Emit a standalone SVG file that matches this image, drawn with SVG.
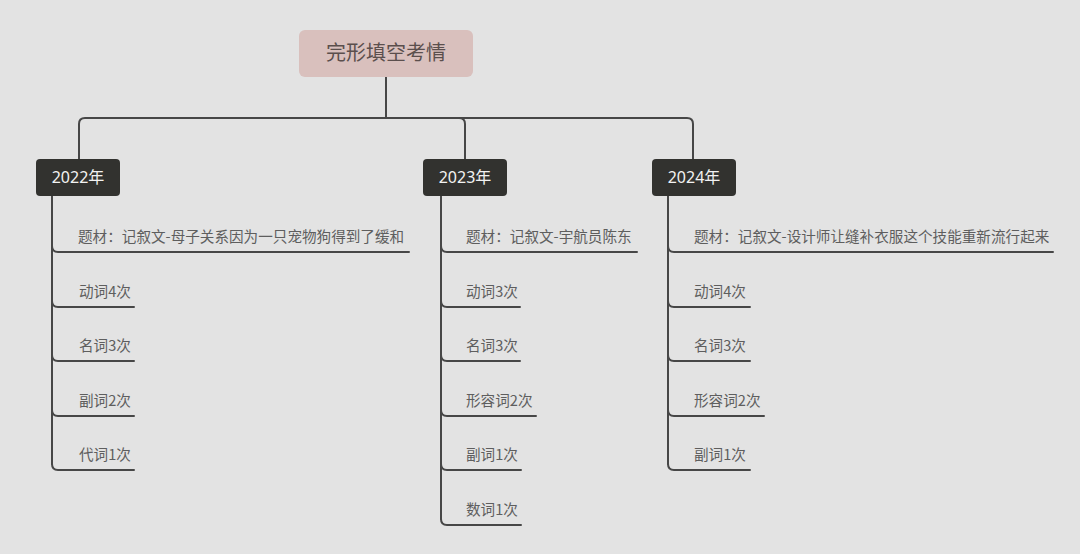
<svg xmlns="http://www.w3.org/2000/svg" width="1080" height="554" viewBox="0 0 1080 554">
<style>
.ln{fill:none;stroke:#474747;stroke-width:2;stroke-linecap:round}
.yr{fill:#32322f}
.yt{fill:#f2f2f2;font-family:"Noto Sans","Noto Sans CJK SC",sans-serif;font-size:16px;text-anchor:middle}
.ct{fill:#5e5e5e;font-family:"Noto Sans CJK SC",sans-serif;font-size:14.6px}
</style>
<rect width="1080" height="554" fill="#e3e3e3"/>
<g id="connectors">
<path class="ln" d="M386 77V118"/>
<path class="ln" d="M79 160V124Q79 118 85 118H687Q693 118 693 124V160"/>
<path class="ln" d="M459 118Q465 118 465 124V160"/>
<path class="ln" d="M52 196V464"/>
<path class="ln" d="M52 246Q52 252 58 252H409"/>
<path class="ln" d="M52 301Q52 307 58 307H134"/>
<path class="ln" d="M52 355Q52 361 58 361H134"/>
<path class="ln" d="M52 410Q52 416 58 416H134"/>
<path class="ln" d="M52 464Q52 470 58 470H134"/>
<path class="ln" d="M441 196V519"/>
<path class="ln" d="M441 246Q441 252 447 252H637"/>
<path class="ln" d="M441 301Q441 307 447 307H520"/>
<path class="ln" d="M441 355Q441 361 447 361H520"/>
<path class="ln" d="M441 410Q441 416 447 416H536"/>
<path class="ln" d="M441 464Q441 470 447 470H521"/>
<path class="ln" d="M441 519Q441 525 447 525H521"/>
<path class="ln" d="M668 196V464"/>
<path class="ln" d="M668 246Q668 252 674 252H1053"/>
<path class="ln" d="M668 301Q668 307 674 307H750"/>
<path class="ln" d="M668 355Q668 361 674 361H750"/>
<path class="ln" d="M668 410Q668 416 674 416H764"/>
<path class="ln" d="M668 464Q668 470 674 470H750"/>
</g>
<g id="root">
<rect x="299" y="30" width="174" height="47" rx="6" fill="#d9c0bd"/>
<text x="386" y="59.5" fill="#5b4f4d" font-family="Noto Sans CJK SC, sans-serif" font-size="20" text-anchor="middle">完形填空考情</text>
</g>
<g id="y2022">
<rect class="yr" x="36" y="159" width="84" height="37" rx="4"/>
<text class="yt" x="78" y="183">2022年</text>
</g>
<g id="y2023">
<rect class="yr" x="423" y="159" width="84" height="37" rx="4"/>
<text class="yt" x="465" y="183">2023年</text>
</g>
<g id="y2024">
<rect class="yr" x="652" y="159" width="84" height="37" rx="4"/>
<text class="yt" x="694" y="183">2024年</text>
</g>
<g id="n2022">
<text class="ct" x="78" y="242">题材：记叙文-母子关系因为一只宠物狗得到了缓和</text>
<text class="ct" x="79" y="296.5">动词4次</text>
<text class="ct" x="79" y="350.5">名词3次</text>
<text class="ct" x="79" y="405.5">副词2次</text>
<text class="ct" x="79" y="459.5">代词1次</text>
</g>
<g id="n2023">
<text class="ct" x="466" y="242">题材：记叙文-宇航员陈东</text>
<text class="ct" x="466" y="296.5">动词3次</text>
<text class="ct" x="466" y="350.5">名词3次</text>
<text class="ct" x="466" y="405.5">形容词2次</text>
<text class="ct" x="466" y="459.5">副词1次</text>
<text class="ct" x="466" y="514.5">数词1次</text>
</g>
<g id="n2024">
<text class="ct" x="694" y="242">题材：记叙文-设计师让缝补衣服这个技能重新流行起来</text>
<text class="ct" x="694" y="296.5">动词4次</text>
<text class="ct" x="694" y="350.5">名词3次</text>
<text class="ct" x="694" y="405.5">形容词2次</text>
<text class="ct" x="694" y="459.5">副词1次</text>
</g>
</svg>
